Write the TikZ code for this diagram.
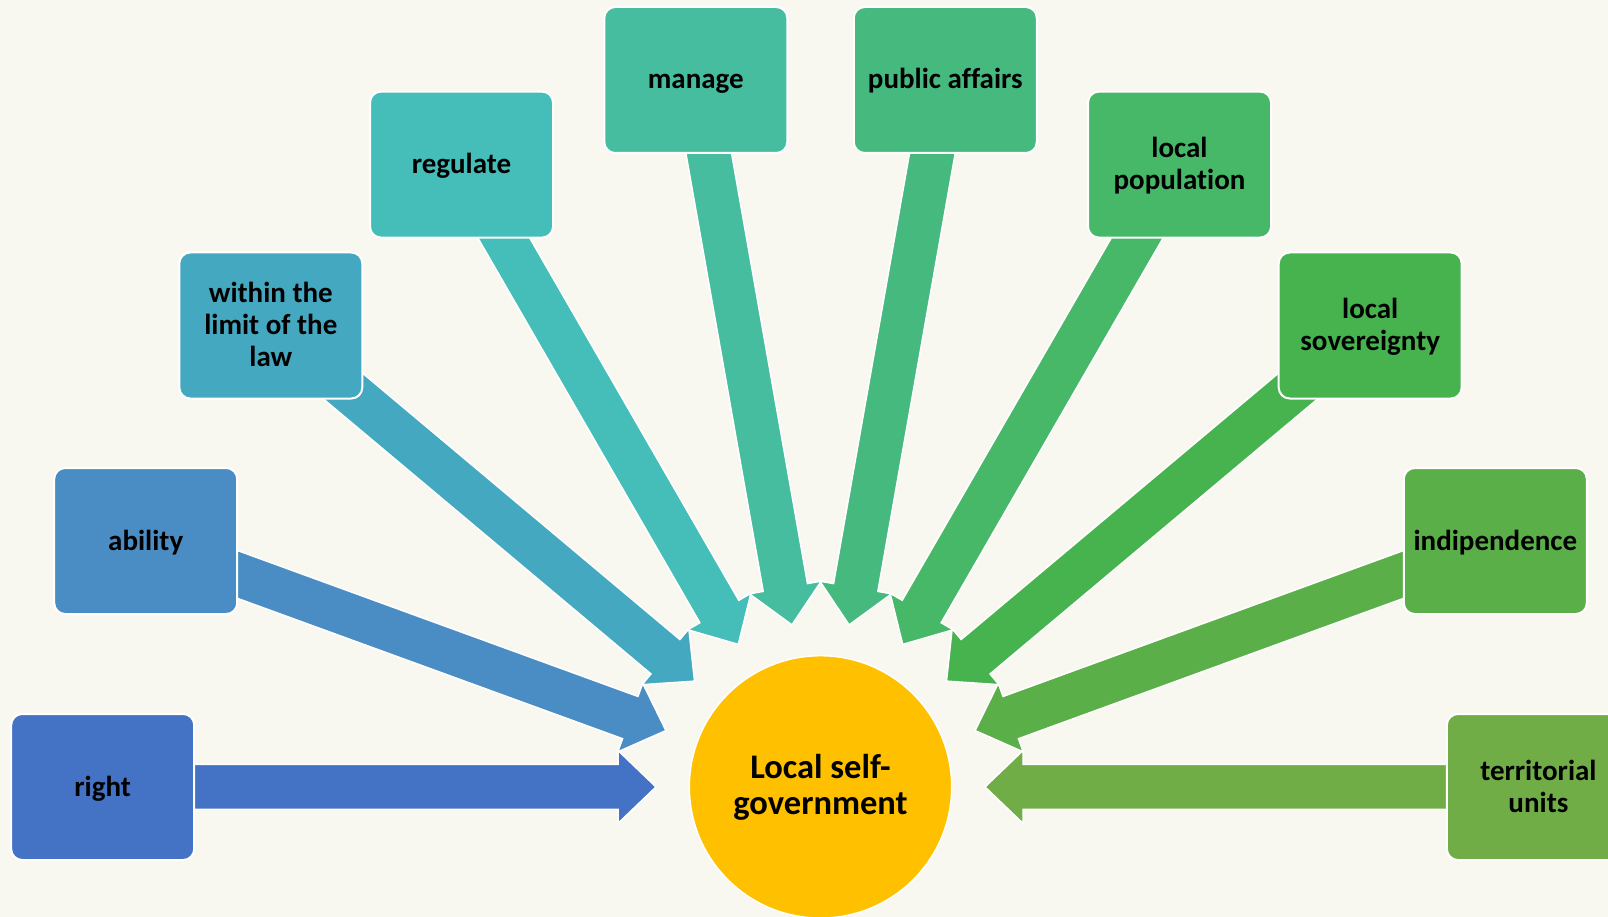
\documentclass[tikz,border=0pt]{standalone}
\usepackage{fontspec}
\setmainfont{Carlito}[Ligatures={NoCommon}]
\usetikzlibrary{calc}
\definecolor{bgcol}{HTML}{F8F7F0}
\definecolor{hubyellow}{HTML}{FFC000}
\definecolor{cA}{HTML}{4472C4}
\definecolor{cB}{HTML}{4A8DC4}
\definecolor{cC}{HTML}{44A8C1}
\definecolor{cD}{HTML}{45BEBA}
\definecolor{cE}{HTML}{45BD9E}
\definecolor{cF}{HTML}{46B97F}
\definecolor{cG}{HTML}{47B768}
\definecolor{cH}{HTML}{46B34E}
\definecolor{cI}{HTML}{5BAF48}
\definecolor{cJ}{HTML}{70AD47}
\pgfdeclarelayer{bglayer}
\pgfdeclarelayer{arrowlayer}
\pgfsetlayers{bglayer,arrowlayer,main}
\newcommand\bs{\rule[-5pt]{0pt}{28pt}}
\newcommand\hs{\rule[-5.5pt]{0pt}{30.5pt}}
\tikzset{
  box/.style={draw=white, line width=2pt, rounded corners=11pt,
    minimum width=183pt, minimum height=146pt, align=center, inner sep=0pt,
    font=\fontsize{29}{32}\selectfont\bfseries, text=black},
  hub/.style={circle, draw=white, line width=1.5pt, fill=hubyellow,
    minimum size=262.4pt, inner sep=0pt, align=center,
    font=\fontsize{34.5}{36.7}\selectfont\bfseries, text=black},
  blk/.style={draw=white, line width=1.5pt, line join=miter}
}
\newcommand\blockarrow[2]{%
  \path ($(c.center)!164.5pt!(#1.center)$) coordinate (#1-t)
        ($(c.center)!202.5pt!(#1.center)$) coordinate (#1-h);
  \filldraw[blk, fill=#2] (#1-t)
    -- ($(#1-h)!36.5pt!90:(#1.center)$)
    -- ($(#1-h)!22.5pt!90:(#1.center)$)
    -- ($(#1.center)!22.5pt!-90:(c.center)$)
    -- ($(#1.center)!22.5pt!90:(c.center)$)
    -- ($(#1-h)!22.5pt!-90:(#1.center)$)
    -- ($(#1-h)!36.5pt!-90:(#1.center)$)
    -- cycle;
}
\begin{document}
\begin{tikzpicture}[x=1pt, y=-1pt]
\useasboundingbox (0,0) rectangle (1608,917);
\begin{pgfonlayer}{bglayer}
  \fill[bgcol] (0,0) rectangle (1608,917);
\end{pgfonlayer}
\node[hub] (c) at (820.5,786.9) {\hs Local self-\\\hs government};
\node[box, fill=cA] (b1) at (102.7,787) {\bs right};
\node[box, fill=cB] (b2) at (145.7,541) {\bs ability};
\node[box, fill=cC] (b3) at (270.8,325.5) {\bs within the\\\bs limit of the\\\bs law};
\node[box, fill=cD] (b4) at (461.5,164.6) {\bs regulate};
\node[box, fill=cE] (b5) at (695.8,80) {\bs manage};
\node[box, fill=cF] (b6) at (945.3,80) {\bs public affairs};
\node[box, fill=cG] (b7) at (1179.5,164.6) {\bs local\\\bs population};
\node[box, fill=cH] (b8) at (1370.2,325.5) {\bs local\\\bs sovereignty};
\node[box, fill=cI] (b9) at (1495.3,541) {\bs indipendence};
\node[box, fill=cJ] (b10) at (1538.4,787) {\bs territorial\\\bs units};
\begin{pgfonlayer}{arrowlayer}
  \blockarrow{b1}{cA}
  \blockarrow{b2}{cB}
  \blockarrow{b3}{cC}
  \blockarrow{b4}{cD}
  \blockarrow{b5}{cE}
  \blockarrow{b6}{cF}
  \blockarrow{b7}{cG}
  \blockarrow{b8}{cH}
  \blockarrow{b9}{cI}
  \blockarrow{b10}{cJ}
\end{pgfonlayer}
\end{tikzpicture}
\end{document}
